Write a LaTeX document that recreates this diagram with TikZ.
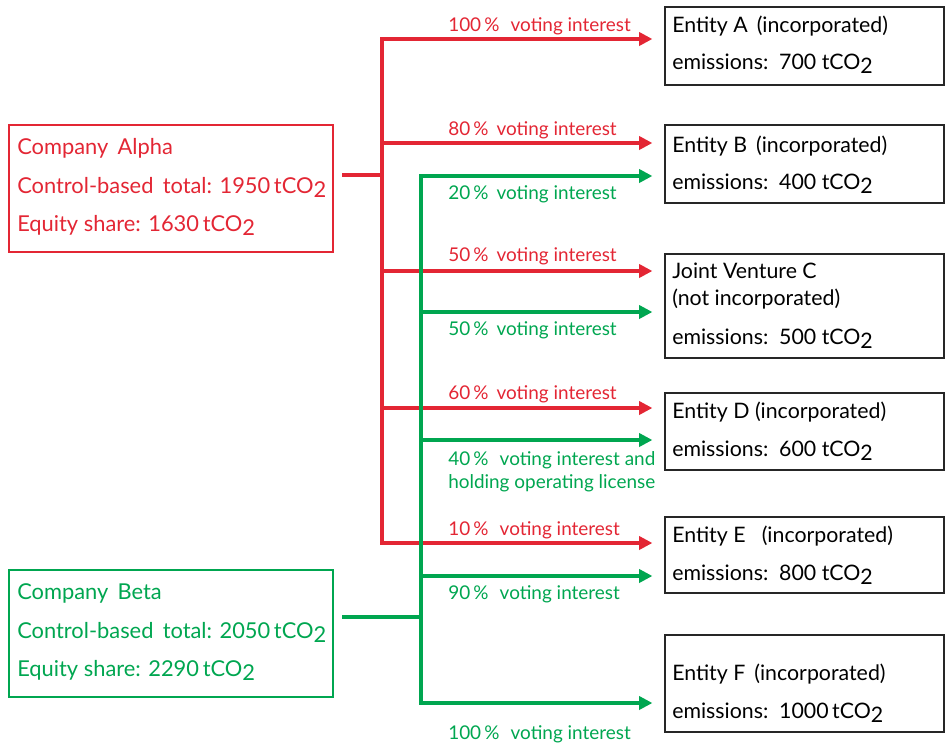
\documentclass[tikz,border=0pt]{standalone}
\usepackage{fontspec}
\setmainfont{Lato}
\usetikzlibrary{arrows.meta}
\definecolor{cred}{RGB}{227,38,52}
\definecolor{cgreen}{RGB}{0,166,80}
\newcommand{\cotwo}{tCO\raisebox{-0.45ex}{2}}
\begin{document}
\begin{tikzpicture}[x=0.75pt,y=-0.75pt,
  ent/.style={draw=black!85, line width=1pt, rectangle, inner sep=0pt, minimum width=209.25pt},
  comp/.style={rectangle, line width=1.1pt, inner sep=0pt, minimum width=243pt, minimum height=95.25pt},
  etxt/.style={anchor=base west, inner sep=0pt, font=\fontsize{16}{18}\selectfont},
  ctxt/.style={anchor=base west, inner sep=0pt, font=\fontsize{16.4}{19}\selectfont},
  lbl/.style={anchor=base west, inner sep=0pt, font=\fontsize{14.2}{16}\selectfont},
  link/.style={line width=2.3pt},
  arr/.style={link, -{Triangle[length=10pt,width=10pt]}, shorten >=9pt},
]
\useasboundingbox (0,0) rectangle (947,747);
% company boxes
\node[comp, draw=cred] (alpha) at (171,188.5) {};
\node[comp, draw=cgreen] (beta) at (171,633.5) {};
\node[ctxt, text=cred] (alpha1) at (17,154) {Company\, Alpha};
\node[ctxt, text=cred] (alpha2) at (17,193) {Control-based\, total: 1950\,\cotwo};
\node[ctxt, text=cred] (alpha3) at (17,231) {Equity share: 1630\,\cotwo};
\node[ctxt, text=cgreen] (beta1) at (17,599) {Company\, Beta};
\node[ctxt, text=cgreen] (beta2) at (17,638) {Control-based\, total: 2050\,\cotwo};
\node[ctxt, text=cgreen] (beta3) at (17,676) {Equity share: 2290\,\cotwo};
% entity boxes
\node[ent, minimum height=58.5pt] (A) at (804.5,46) {};
\node[ent, minimum height=58.5pt] (B) at (804.5,164) {};
\node[ent, minimum height=78pt] (C) at (804.5,306) {};
\node[ent, minimum height=57.75pt] (D) at (804.5,431.5) {};
\node[ent, minimum height=57pt] (E) at (804.5,555) {};
\node[ent, minimum height=72.75pt] (F) at (804.5,683.5) {};
\node[etxt] (A1) at (672,32) {Entity A\, (incorporated)};
\node[etxt] (A2) at (672,69) {emissions:\, 700 \cotwo};
\node[etxt] (B1) at (672,152) {Entity B\, (incorporated)};
\node[etxt] (B2) at (672,189) {emissions:\, 400 \cotwo};
\node[etxt] (C1) at (672,278) {Joint Venture C};
\node[etxt] (C2) at (672,305) {(not incorporated)};
\node[etxt] (C3) at (672,344) {emissions:\, 500 \cotwo};
\node[etxt] (D1) at (672,418) {Entity D (incorporated)};
\node[etxt] (D2) at (672,456) {emissions:\, 600 \cotwo};
\node[etxt] (E1) at (672,542) {Entity E\,\,\, (incorporated)};
\node[etxt] (E2) at (672,580) {emissions:\, 800 \cotwo};
\node[etxt] (F1) at (672,680) {Entity F\, (incorporated)};
\node[etxt] (F2) at (672,718) {emissions:\, 1000\,\cotwo};
% coordinates
\coordinate (ra0) at (342,175);
\coordinate (rA) at (382,39);
\coordinate (rB) at (382,143);
\coordinate (rC) at (382,271);
\coordinate (rD) at (382,408);
\coordinate (rE) at (382,543);
\coordinate (gb0) at (342,617);
\coordinate (gB) at (421,176);
\coordinate (gC) at (421,312);
\coordinate (gD) at (421,440);
\coordinate (gE) at (421,576);
\coordinate (gF) at (421,703);
% red connectors
\draw[link, cred] (ra0) -- (ra0 -| rA);
\draw[link, cred, line cap=rect] (rA) -- (rE);
\foreach \p/\q in {rA/A, rB/B, rC/C, rD/D, rE/E}
  \draw[arr, cred] (\p) -- (\p -| \q.west);
% green connectors
\draw[link, cgreen] (gb0) -- (gb0 -| gB);
\draw[link, cgreen, line cap=rect] (gB) -- (gF);
\foreach \p/\q in {gB/B, gC/C, gD/D, gE/E, gF/F}
  \draw[arr, cgreen] (\p) -- (\p -| \q.west);
% labels
\node[lbl, text=cred] (l1) at (448,31) {100\,\%\,\, voting interest};
\node[lbl, text=cred] (l2) at (448,135) {80\,\% \,voting interest};
\node[lbl, text=cgreen] (l3) at (448,199) {20\,\% \,voting interest};
\node[lbl, text=cred] (l4) at (448,261) {50\,\% \,voting interest};
\node[lbl, text=cgreen] (l5) at (448,335) {50\,\% \,voting interest};
\node[lbl, text=cred] (l6) at (448,399) {60\,\% \,voting interest};
\node[lbl, text=cgreen] (l7) at (448,465) {40\,\%\,\, voting interest and};
\node[lbl, text=cgreen] (l7b) at (448,488) {holding operating license};
\node[lbl, text=cred] (l8) at (448,535) {10\,\%\,\, voting interest};
\node[lbl, text=cgreen] (l9) at (448,599) {90\,\%\,\, voting interest};
\node[lbl, text=cgreen] (l10) at (448,739) {100\,\%\,\, voting interest};
\end{tikzpicture}
\end{document}
